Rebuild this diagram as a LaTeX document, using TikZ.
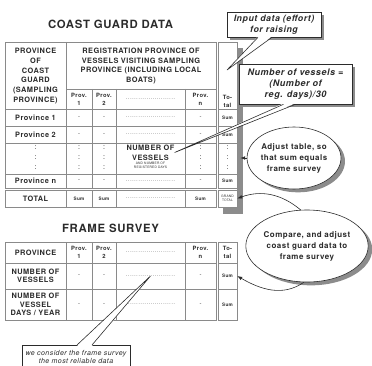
\documentclass[tikz,border=0pt]{standalone}
\usepackage{fontspec}
\setmainfont[LetterSpace=6]{TeX Gyre Heros}
\usepackage{tikz}
\usetikzlibrary{
  arrows.meta,
  positioning,
  calc,
  shapes.geometric,
  shadows
}
\definecolor{cgInk}{HTML}{2B2B2B}
\definecolor{cgRule}{HTML}{8A8A8A}
\definecolor{cgShade}{HTML}{8C8C8C}
\tikzset{
  cell/.style={font=\fontsize{6.3}{8.5}\selectfont\bfseries, align=center, inner sep=0pt, text=cgInk},
  rowlbl/.style={cell},
  fslbl/.style={cell, font=\fontsize{6.3}{7}\selectfont\bfseries},
  provhd/.style={cell, font=\fontsize{5}{6.8}\selectfont\bfseries},
  dashcell/.style={cell, font=\fontsize{5}{6}\selectfont},
  colons/.style={cell, font=\fontsize{6}{8.5}\selectfont},
  sumtxt/.style={cell, font=\fontsize{4}{5}\selectfont\bfseries},
  tinytxt/.style={cell, font=\fontsize{2.8}{3.3}\selectfont},
  dotrow/.style={cell, font=\fontsize{4}{4}\selectfont},
  totcell/.style={minimum width=5.7mm},
  title/.style={font=\fontsize{9.7}{11}\selectfont\bfseries, text=cgInk, inner sep=0pt},
  rule/.style={cgRule, line width=0.45pt},
  notebox/.style={
    draw=cgInk, fill=white, line width=0.5pt, align=center, inner sep=0pt,
    font=\fontsize{7.5}{9.4}\selectfont\bfseries\itshape, text=cgInk
  },
  boxshade/.style={drop shadow={shadow xshift=0.9mm, shadow yshift=-0.9mm, fill=cgShade, opacity=1}},
  noteoval/.style={
    ellipse, draw=cgInk, fill=white, line width=0.5pt, align=center, inner sep=0pt,
    font=\fontsize{6.8}{9.4}\selectfont\bfseries, text=cgInk,
    drop shadow={shadow xshift=1.2mm, shadow yshift=-1mm, fill=cgShade, opacity=1}
  },
  wedge/.style={draw=cgInk, line width=0.5pt},
  pointer/.style={-{Latex[length=1.5mm,width=1.1mm]}, cgInk, line width=0.5pt}
}

\begin{document}
\begin{tikzpicture}[x=0.3mm, y=-0.3mm]
  \useasboundingbox (0,0) rectangle (372,365);
  \clip (0,0) rectangle (372,365);

  % coast guard table
  \node[title] (cgtitle) at (110.5,24) {COAST GUARD DATA};
  \fill[cgShade] (223,48) rectangle (243,214);
  \fill[white] (218,42) rectangle (237,207);
  \draw[rule] (5,42) rectangle (216,188);
  \draw[rule] (5,190) rectangle (216,207);
  \draw[rule] (218,42) rectangle (237,188);
  \draw[rule] (218,190) rectangle (237,207);
  \draw[rule] (66,42) -- (66,188);
  \foreach \x in {92,116,185}
    \draw[rule] (\x,89) -- (\x,188);
  \foreach \x in {66,92,116,185}
    \draw[rule] (\x,190) -- (\x,207);
  \draw[rule] (66,89) -- (216,89);
  \foreach \y in {109,126,143,174} {
    \draw[rule] (5,\y) -- (216,\y);
    \draw[rule] (218,\y) -- (237,\y);
  }

  \node[cell] (cghead) at (35.5,76) {PROVINCE\\OF\\COAST\\GUARD\\(SAMPLING\\PROVINCE)};
  \node[cell] (reghead) at (141,66) {REGISTRATION PROVINCE OF\\VESSELS VISITING SAMPLING\\PROVINCE (INCLUDING LOCAL\\BOATS)};
  \foreach \name/\x/\txt in {c1/79/1, c2/104/2, c4/200.5/n}
    \node[provhd] (sub-\name) at (\x,99) {Prov.\\\txt};
  \node[dotrow] (sub-c3) at (150.5,99) {\makebox[15mm]{\dotfill}};
  \node[provhd, totcell] (sub-tot) at (227.5,101) {To-\\tal};

  \foreach \name/\y/\txt in {p1/117.5/Province 1, p2/134.5/Province 2, pn/181/Province n} {
    \node[rowlbl] (\name-lbl) at (35.5,\y) {\txt};
    \node[dashcell] (\name-c1) at (79,\y) {-};
    \node[dashcell] (\name-c2) at (104,\y) {-};
    \node[dotrow] (\name-c3) at (150.5,\y) {\makebox[15mm]{\dotfill}};
    \node[dashcell] (\name-c4) at (200.5,\y) {-};
    \node[sumtxt, totcell] (\name-tot) at (227.5,\y) {Sum};
  }

  \foreach \name/\x in {lbl/35.5, c1/79, c2/104, c4/200.5}
    \node[colons] (big-\name) at (\x,158) {:\\:\\:};
  \node[colons, totcell] (big-tot) at (227.5,158) {:\\:\\:};
  \node[cell] (big-c3) at (150.5,152.5) {NUMBER OF\\VESSELS};
  \node[tinytxt, below=0.5mm of big-c3] (big-c3sub) {AND NUMBER OF\\REGISTERED DAYS};

  \node[rowlbl] (tot-lbl) at (35.5,198.5) {TOTAL};
  \foreach \name/\x in {c1/79, c2/104, c4/200.5}
    \node[sumtxt] (tot-\name) at (\x,198.5) {Sum};
  \node[dotrow] (tot-c3) at (150.5,198.5) {\makebox[15mm]{\dotfill}};
  \node[tinytxt, totcell] (tot-tot) at (227.5,198.5) {GRAND\\TOTAL};

  % frame survey table
  \node[title] (fstitle) at (110.5,228) {FRAME SURVEY};
  \draw[rule] (5,242) rectangle (216,320);
  \draw[rule] (218,242) rectangle (237,320);
  \foreach \x in {66,92,116,185}
    \draw[rule] (\x,242) -- (\x,320);
  \foreach \y in {263,289} {
    \draw[rule] (5,\y) -- (216,\y);
    \draw[rule] (218,\y) -- (237,\y);
  }

  \node[cell] (fs0-lbl) at (35.5,252.5) {PROVINCE};
  \foreach \name/\x/\txt in {c1/79/1, c2/104/2, c4/200.5/n}
    \node[provhd] (fs0-\name) at (\x,252.5) {Prov.\\\txt};
  \node[dotrow] (fs0-c3) at (150.5,252.5) {\makebox[15mm]{\dotfill}};
  \node[provhd, totcell] (fs0-tot) at (227.5,252.5) {To-\\tal};

  \foreach \name/\y/\txt in {fs1/276/{NUMBER OF\\VESSELS}, fs2/304.5/{NUMBER OF\\VESSEL\\DAYS / YEAR}} {
    \node[fslbl] (\name-lbl) at (35.5,\y) {\txt};
    \node[dashcell] (\name-c1) at (79,\y) {-};
    \node[dashcell] (\name-c2) at (104,\y) {-};
    \node[dotrow] (\name-c3) at (150.5,\y) {\makebox[15mm]{\dotfill}};
    \node[dashcell] (\name-c4) at (200.5,\y) {-};
    \node[sumtxt, totcell] (\name-tot) at (227.5,\y) {Sum};
  }

  % callouts
  \node[notebox, boxshade, minimum width=28.2mm, minimum height=7.5mm] (note1) at (274,24.5)
    {Input data (effort)\\for raising};
  \coordinate (tothead) at (227,70);
  \fill[white] ($(note1.south)+(-16,-1)$) -- (tothead) -- ($(note1.south)+(-2,-1)$) -- cycle;
  \draw[wedge] ($(note1.south)+(-16,0)$) -- (tothead) -- ($(note1.south)+(-2,0)$);

  \node[notebox, boxshade, minimum width=33.9mm, minimum height=12mm,
    font=\fontsize{7.7}{9.4}\selectfont\bfseries\itshape] (note2) at (295.5,84)
    {Number of vessels =\\(Number of\\reg. days)/30};
  \fill[white] ($(note2.south)+(-12,-1)$) -- (big-c3.east) -- ($(note2.south)+(0,-1)$) -- cycle;
  \draw[wedge] ($(note2.south)+(-12,0)$) -- (big-c3.east) -- ($(note2.south)+(0,0)$);

  \node[noteoval, minimum width=25.2mm, minimum height=18.6mm] (adjust) at (294,158)
    {Adjust table, so\\that sum equals\\frame survey};
  \node[noteoval, minimum width=33mm, minimum height=21.6mm] (compare) at (307,246)
    {Compare, and adjust\\coast guard data to\\frame survey};
  \draw[pointer, shorten >=0.9mm] (adjust.west) -- (big-tot.east);
  \draw[pointer] (compare.100) to[out=140, in=20] (tot-tot.east);
  \draw[pointer] (compare.265) to[out=215, in=-30] (fs1-tot.east);

  \node[notebox, anchor=north, font=\fontsize{6}{7}\selectfont\itshape,
    minimum width=32.4mm, minimum height=7.2mm] (note4) at (76,345)
    {we consider the frame survey\\the most reliable data};
  \fill[white] ($(note4.north)+(1,1)$) -- (fs1-c3.center) -- ($(note4.north)+(16,1)$) -- cycle;
  \draw[wedge] ($(note4.north)+(1,0)$) -- (fs1-c3.center) -- ($(note4.north)+(16,0)$);
\end{tikzpicture}
\end{document}
